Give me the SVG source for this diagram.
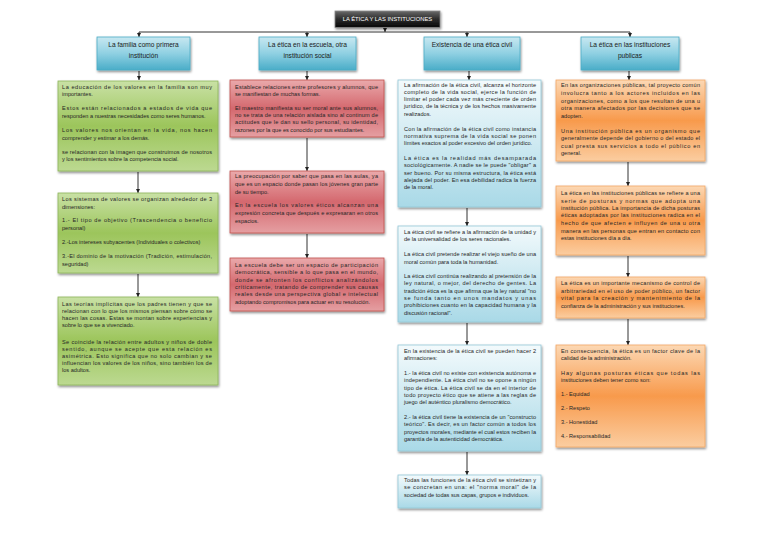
<svg xmlns="http://www.w3.org/2000/svg" width="768" height="543" viewBox="0 0 768 543">
<style>
.t{font-family:"Liberation Sans",Arial,sans-serif;font-size:5.6px;fill:#262626}
.h{font-family:"Liberation Sans",Arial,sans-serif;font-size:6.6px;fill:#1a1a1a;text-anchor:middle}
.ti{font-family:"Liberation Sans",Arial,sans-serif;font-size:5.8px;fill:#ffffff;text-anchor:middle}
.g{fill:url(#gG);stroke:#8db45a;stroke-width:0.8}
.r{fill:url(#gR);stroke:#c0504d;stroke-width:0.8}
.b{fill:url(#gB);stroke:#93c7d8;stroke-width:0.8}
.o{fill:url(#gO);stroke:#f2a765;stroke-width:0.8}
.hd{fill:url(#gH);stroke:#4bacc6;stroke-width:0.8}
.c{fill:none;stroke:#333;stroke-width:1}
</style>
<defs>
<linearGradient id="gG" x1="0" y1="0" x2="0" y2="1"><stop offset="0" stop-color="#c9e1a5"/><stop offset="0.5" stop-color="#9cc55b"/><stop offset="1" stop-color="#bcd991"/></linearGradient>
<linearGradient id="gR" x1="0" y1="0" x2="0" y2="1"><stop offset="0" stop-color="#eaa9ab"/><stop offset="0.5" stop-color="#d4686e"/><stop offset="1" stop-color="#e59fa2"/></linearGradient>
<linearGradient id="gB" x1="0" y1="0" x2="0" y2="1"><stop offset="0" stop-color="#f3fafc"/><stop offset="1" stop-color="#a9d9e7"/></linearGradient>
<linearGradient id="gO" x1="0" y1="0" x2="0" y2="1"><stop offset="0" stop-color="#fcd8b4"/><stop offset="0.5" stop-color="#f89a4c"/><stop offset="1" stop-color="#fbcda0"/></linearGradient>
<linearGradient id="gH" x1="0" y1="0" x2="0" y2="1"><stop offset="0" stop-color="#c8e8f1"/><stop offset="0.5" stop-color="#8fd0e2"/><stop offset="1" stop-color="#4aadc8"/></linearGradient>
<linearGradient id="gT" x1="0" y1="0" x2="0" y2="1"><stop offset="0" stop-color="#6a6a6a"/><stop offset="0.5" stop-color="#2a2a2a"/><stop offset="1" stop-color="#050505"/></linearGradient>
<filter id="sh" x="-10%" y="-10%" width="120%" height="130%"><feDropShadow dx="0.8" dy="1.6" stdDeviation="0.8" flood-color="#000" flood-opacity="0.45"/></filter>
<marker id="ar" viewBox="0 0 6 6" refX="6" refY="3" markerWidth="4.5" markerHeight="4.5" orient="auto" markerUnits="userSpaceOnUse"><path d="M0,0 L6,3 L0,6 z" fill="#222"/></marker>
</defs>
<rect width="768" height="543" fill="#ffffff"/>

<g id="connectors">
<path class="c" d="M385 27.5 V32" marker-end="url(#ar)"/>
<path class="c" d="M139 32 H630"/>
<path class="c" d="M139 32 V37" marker-end="url(#ar)"/>
<path class="c" d="M307 32 V37" marker-end="url(#ar)"/>
<path class="c" d="M467 32 V37" marker-end="url(#ar)"/>
<path class="c" d="M630 32 V37" marker-end="url(#ar)"/>
<path class="c" d="M139 71 V80" marker-end="url(#ar)"/>
<path class="c" d="M307 71 V80" marker-end="url(#ar)"/>
<path class="c" d="M469 71 V80" marker-end="url(#ar)"/>
<path class="c" d="M629 71 V80" marker-end="url(#ar)"/>
<path class="c" d="M138 172 V193" marker-end="url(#ar)"/>
<path class="c" d="M138 274 V297" marker-end="url(#ar)"/>
<path class="c" d="M307 138 V171" marker-end="url(#ar)"/>
<path class="c" d="M307 234 V258" marker-end="url(#ar)"/>
<path class="c" d="M467 208 V226" marker-end="url(#ar)"/>
<path class="c" d="M467 323 V345" marker-end="url(#ar)"/>
<path class="c" d="M467 452 V475" marker-end="url(#ar)"/>
<path class="c" d="M628 162 V186" marker-end="url(#ar)"/>
<path class="c" d="M628 256 V277" marker-end="url(#ar)"/>
<path class="c" d="M628 319 V345" marker-end="url(#ar)"/>
</g>

<g id="title">
<rect x="335" y="11" width="105" height="16.5" fill="url(#gT)" stroke="#8a8a8a" stroke-width="0.8" filter="url(#sh)"/>
<text class="ti" x="387.5" y="21.3">LA ÉTICA Y LAS INSTITUCIONES</text>
</g>

<g id="header1">
<rect class="hd" x="97" y="37" width="93" height="33" filter="url(#sh)"/>
<text class="h" x="143.5" y="46.5">La familia como primera</text>
<text class="h" x="143.5" y="57.5">institución</text>
</g>
<g id="header2">
<rect class="hd" x="259" y="37" width="97" height="33" filter="url(#sh)"/>
<text class="h" x="307.5" y="46.5">La ética en la escuela, otra</text>
<text class="h" x="307.5" y="57.5">institución social</text>
</g>
<g id="header3">
<rect class="hd" x="424" y="37" width="96" height="33" filter="url(#sh)"/>
<text class="h" x="472" y="46.5">Existencia de una ética civil</text>
</g>
<g id="header4">
<rect class="hd" x="581" y="37" width="98" height="33" filter="url(#sh)"/>
<text class="h" x="630" y="46.5">La ética en las instituciones</text>
<text class="h" x="630" y="57.5">publicas</text>
</g>

<g id="fam1">
<rect class="g" x="58" y="81" width="160" height="90" filter="url(#sh)"/>
<text class="t" x="62" y="89" textLength="150" lengthAdjust="spacing">La educación de los valores en la familia son muy</text>
<text class="t" x="62" y="96.3">importantes.</text>
<text class="t" x="62" y="110.3" textLength="150" lengthAdjust="spacing">Estos están relacionados a estados de vida que</text>
<text class="t" x="62" y="117.6">responden a nuestras necesidades como seres humanos.</text>
<text class="t" x="62" y="132.3" textLength="150" lengthAdjust="spacing">Los valores nos orientan en la vida, nos hacen</text>
<text class="t" x="62" y="139.6">comprender y estimar a los demás.</text>
<text class="t" x="62" y="154" textLength="150" lengthAdjust="spacing">se relacionan con la imagen que construimos de nosotros</text>
<text class="t" x="62" y="161.3">y los sentimientos sobre la competencia social.</text>
</g>
<g id="fam2">
<rect class="g" x="58" y="193" width="160" height="80" filter="url(#sh)"/>
<text class="t" x="62" y="200.7" textLength="150" lengthAdjust="spacing">Los sistemas de valores se organizan alrededor de 3</text>
<text class="t" x="62" y="208.5">dimensiones:</text>
<text class="t" x="62" y="222.3" textLength="150" lengthAdjust="spacing">1.- El tipo de objetivo (Trascendencia o beneficio</text>
<text class="t" x="62" y="230">personal)</text>
<text class="t" x="62" y="243.5">2.-Los intereses subyacentes (Individuales o colectivos)</text>
<text class="t" x="62" y="258.3" textLength="150" lengthAdjust="spacing">3.-El dominio de la motivación (Tradición, estimulación,</text>
<text class="t" x="62" y="266">seguridad)</text>
</g>
<g id="fam3">
<rect class="g" x="58" y="297" width="160" height="88" filter="url(#sh)"/>
<text class="t" x="62" y="306" textLength="150" lengthAdjust="spacing">Las teorías implícitas que los padres tienen y que se</text>
<text class="t" x="62" y="313" textLength="150" lengthAdjust="spacing">relacionan con lo que los mismos piensan sobre cómo se</text>
<text class="t" x="62" y="320" textLength="150" lengthAdjust="spacing">hacen las cosas. Estas se montan sobre experiencias y</text>
<text class="t" x="62" y="327">sobre lo que se a vivenciado.</text>
<text class="t" x="62" y="343.7" textLength="150" lengthAdjust="spacing">Se coincide la relación entre adultos y niños de doble</text>
<text class="t" x="62" y="350.8" textLength="150" lengthAdjust="spacing">sentido, aunque se acepte que esta relación es</text>
<text class="t" x="62" y="358" textLength="150" lengthAdjust="spacing">asimétrica. Esto significa que no solo cambian y se</text>
<text class="t" x="62" y="365.2" textLength="150" lengthAdjust="spacing">influencian los valores de los niños, sino también los de</text>
<text class="t" x="62" y="372.3">los adultos.</text>
</g>

<g id="esc1">
<rect class="r" x="230" y="80" width="154" height="57" filter="url(#sh)"/>
<text class="t" x="235" y="89" textLength="143" lengthAdjust="spacing">Establece relaciones entre profesores y alumnos, que</text>
<text class="t" x="235" y="95.7">se manifiestan de muchas formas.</text>
<text class="t" x="235" y="110" textLength="143" lengthAdjust="spacing">El maestro manifiesta su ser moral ante sus alumnos,</text>
<text class="t" x="235" y="117" textLength="143" lengthAdjust="spacing">no se trata de una relación aislada sino al continum de</text>
<text class="t" x="235" y="124.3" textLength="143" lengthAdjust="spacing">actitudes que le dan su sello personal, su identidad,</text>
<text class="t" x="235" y="131.7">razones por la que es conocido por sus estudiantes.</text>
</g>
<g id="esc2">
<rect class="r" x="230" y="171" width="154" height="62" filter="url(#sh)"/>
<text class="t" x="235" y="177.7" textLength="143" lengthAdjust="spacing">La preocupación por saber que pasa en las aulas, ya</text>
<text class="t" x="235" y="185.5" textLength="143" lengthAdjust="spacing">que es un espacio donde pasan los jóvenes gran parte</text>
<text class="t" x="235" y="193.5">de su tiempo.</text>
<text class="t" x="235" y="207" textLength="143" lengthAdjust="spacing">En la escuela los valores éticos alcanzan una</text>
<text class="t" x="235" y="215" textLength="143" lengthAdjust="spacing">expresión concreta que después e expresaran en otros</text>
<text class="t" x="235" y="223">espacios.</text>
</g>
<g id="esc3">
<rect class="r" x="230" y="258" width="154" height="53" filter="url(#sh)"/>
<text class="t" x="235" y="267" textLength="143" lengthAdjust="spacing">La escuela debe ser un espacio de participación</text>
<text class="t" x="235" y="274.3" textLength="143" lengthAdjust="spacing">democrática, sensible a lo que pasa en el mundo,</text>
<text class="t" x="235" y="281.5" textLength="143" lengthAdjust="spacing">donde se afronten los conflictos analizándolos</text>
<text class="t" x="235" y="288.7" textLength="143" lengthAdjust="spacing">críticamente, tratando de comprender sus causas</text>
<text class="t" x="235" y="296" textLength="143" lengthAdjust="spacing">reales desde una perspectiva global e intelectual</text>
<text class="t" x="235" y="303.5">adoptando compromisos para actuar en su resolución.</text>
</g>

<g id="civ1">
<rect class="b" x="398" y="80" width="143" height="127" filter="url(#sh)"/>
<text class="t" x="404" y="86.7" textLength="132" lengthAdjust="spacing">La afirmación de la ética civil, alcanza el horizonte</text>
<text class="t" x="404" y="94" textLength="132" lengthAdjust="spacing">completo de la vida social, ejerce la función de</text>
<text class="t" x="404" y="101.2" textLength="132" lengthAdjust="spacing">limitar el poder cada vez más creciente de orden</text>
<text class="t" x="404" y="108.4" textLength="132" lengthAdjust="spacing">jurídico, de la técnica y de los hechos masivamente</text>
<text class="t" x="404" y="115.7">realizados.</text>
<text class="t" x="404" y="130.7" textLength="132" lengthAdjust="spacing">Con la afirmación de la ética civil como instancia</text>
<text class="t" x="404" y="138" textLength="132" lengthAdjust="spacing">normativa suprema de la vida social se ponen</text>
<text class="t" x="404" y="145.3">límites exactos al poder excesivo del orden jurídico.</text>
<text class="t" x="404" y="160" textLength="132" lengthAdjust="spacing">La ética es la realidad más desamparada</text>
<text class="t" x="404" y="167.3" textLength="132" lengthAdjust="spacing">sociológicamente. A nadie se le puede "obligar" a</text>
<text class="t" x="404" y="174.6" textLength="132" lengthAdjust="spacing">ser bueno. Por su misma estructura, la ética está</text>
<text class="t" x="404" y="181.8" textLength="132" lengthAdjust="spacing">alejada del poder. En esa debilidad radica la fuerza</text>
<text class="t" x="404" y="189">de la moral.</text>
</g>
<g id="civ2">
<rect class="b" x="398" y="226" width="143" height="96" filter="url(#sh)"/>
<text class="t" x="404" y="233.7" textLength="132" lengthAdjust="spacing">La ética civil se refiere a la afirmación de la unidad y</text>
<text class="t" x="404" y="241.3">de la universalidad de los seres racionales.</text>
<text class="t" x="404" y="256" textLength="132" lengthAdjust="spacing">La ética civil pretende realizar el viejo sueño de una</text>
<text class="t" x="404" y="263.7">moral común para toda la humanidad.</text>
<text class="t" x="404" y="278" textLength="132" lengthAdjust="spacing">La ética civil continúa realizando al pretensión de la</text>
<text class="t" x="404" y="285.3" textLength="132" lengthAdjust="spacing">ley natural, o mejor, del derecho de gentes. La</text>
<text class="t" x="404" y="292.7" textLength="132" lengthAdjust="spacing">tradición ética es la que afirma que la ley natural "no</text>
<text class="t" x="404" y="300" textLength="132" lengthAdjust="spacing">se funda tanto en unos mandatos y unas</text>
<text class="t" x="404" y="307.3" textLength="132" lengthAdjust="spacing">prohibiciones cuanto en la capacidad humana y la</text>
<text class="t" x="404" y="314.7">discusión racional".</text>
</g>
<g id="civ3">
<rect class="b" x="398" y="345" width="143" height="106" filter="url(#sh)"/>
<text class="t" x="404" y="352.7" textLength="132" lengthAdjust="spacing">En la existencia de la ética civil se pueden hacer 2</text>
<text class="t" x="404" y="360.3">afirmaciones:</text>
<text class="t" x="404" y="374.7" textLength="132" lengthAdjust="spacing">1.- la ética civil no existe con existencia autónoma e</text>
<text class="t" x="404" y="382" textLength="132" lengthAdjust="spacing">independiente. La ética civil no se opone a ningún</text>
<text class="t" x="404" y="389.7" textLength="132" lengthAdjust="spacing">tipo de ética. La ética civil se da en el interior de</text>
<text class="t" x="404" y="397" textLength="132" lengthAdjust="spacing">todo proyecto ético que se atiene a las reglas de</text>
<text class="t" x="404" y="404.3">juego del auténtico pluralismo democrático.</text>
<text class="t" x="404" y="418.7" textLength="132" lengthAdjust="spacing">2.- la ética civil tiene la existencia de un "constructo</text>
<text class="t" x="404" y="426" textLength="132" lengthAdjust="spacing">teórico". Es decir, es un factor común a todos los</text>
<text class="t" x="404" y="433.7" textLength="132" lengthAdjust="spacing">proyectos morales, mediante el cual estos reciben la</text>
<text class="t" x="404" y="441">garantía de la autenticidad democrática.</text>
</g>
<g id="civ4">
<rect class="b" x="398" y="475" width="143" height="33" filter="url(#sh)"/>
<text class="t" x="404" y="482" textLength="132" lengthAdjust="spacing">Todas las funciones de la ética civil se sintetizan y</text>
<text class="t" x="404" y="489.3" textLength="132" lengthAdjust="spacing">se concretan en una: el "norma moral" de la</text>
<text class="t" x="404" y="496.7">sociedad de todas sus capas, grupos e individuos.</text>
</g>

<g id="pub1">
<rect class="o" x="556" y="80" width="149" height="81" filter="url(#sh)"/>
<text class="t" x="561" y="87.3" textLength="139" lengthAdjust="spacing">En las organizaciones públicas, tal proyecto común</text>
<text class="t" x="561" y="95" textLength="139" lengthAdjust="spacing">involucra tanto a los actores incluidos en las</text>
<text class="t" x="561" y="102.7" textLength="139" lengthAdjust="spacing">organizaciones, como a los que resultan de una u</text>
<text class="t" x="561" y="110" textLength="139" lengthAdjust="spacing">otra manera afectados por las decisiones que se</text>
<text class="t" x="561" y="117.7">adopten.</text>
<text class="t" x="561" y="132.7" textLength="139" lengthAdjust="spacing">Una institución pública es un organismo que</text>
<text class="t" x="561" y="140" textLength="139" lengthAdjust="spacing">generalmente depende del gobierno o del estado el</text>
<text class="t" x="561" y="147.7" textLength="139" lengthAdjust="spacing">cual presta sus servicios a todo el público en</text>
<text class="t" x="561" y="155">general.</text>
</g>
<g id="pub2">
<rect class="o" x="556" y="186" width="149" height="69" filter="url(#sh)"/>
<text class="t" x="561" y="195" textLength="139" lengthAdjust="spacing">La ética en las instituciones públicas se refiere a una</text>
<text class="t" x="561" y="202.7" textLength="139" lengthAdjust="spacing">serie de posturas y normas que adopta una</text>
<text class="t" x="561" y="210" textLength="139" lengthAdjust="spacing">institución pública. La importancia de dicha posturas</text>
<text class="t" x="561" y="217.3" textLength="139" lengthAdjust="spacing">éticas adoptadas por las instituciones radica en el</text>
<text class="t" x="561" y="225" textLength="139" lengthAdjust="spacing">hecho de que afecten e influyen de una u otra</text>
<text class="t" x="561" y="232.7" textLength="139" lengthAdjust="spacing">manera en las personas que entran en contacto con</text>
<text class="t" x="561" y="240">estas instituciones día a día.</text>
</g>
<g id="pub3">
<rect class="o" x="556" y="277" width="149" height="41" filter="url(#sh)"/>
<text class="t" x="561" y="284.7" textLength="139" lengthAdjust="spacing">La ética es un importante mecanismo de control de</text>
<text class="t" x="561" y="292.7" textLength="139" lengthAdjust="spacing">arbitrariedad en el uso de poder público, un factor</text>
<text class="t" x="561" y="300.3" textLength="139" lengthAdjust="spacing">vital para la creación y mantenimiento de la</text>
<text class="t" x="561" y="308">confianza de la administración y sus instituciones.</text>
</g>
<g id="pub4">
<rect class="o" x="556" y="345" width="149" height="102" filter="url(#sh)"/>
<text class="t" x="561" y="353" textLength="139" lengthAdjust="spacing">En consecuencia, la ética es un factor clave de la</text>
<text class="t" x="561" y="360.3">calidad de la administración.</text>
<text class="t" x="561" y="374.7" textLength="139" lengthAdjust="spacing">Hay algunas posturas éticas que todas las</text>
<text class="t" x="561" y="382">instituciones deben tener como son:</text>
<text class="t" x="561" y="396">1.- Equidad</text>
<text class="t" x="561" y="410.3">2.- Respeto</text>
<text class="t" x="561" y="424.3">3.- Honestidad</text>
<text class="t" x="561" y="438">4.- Responsabilidad</text>
</g>
</svg>
